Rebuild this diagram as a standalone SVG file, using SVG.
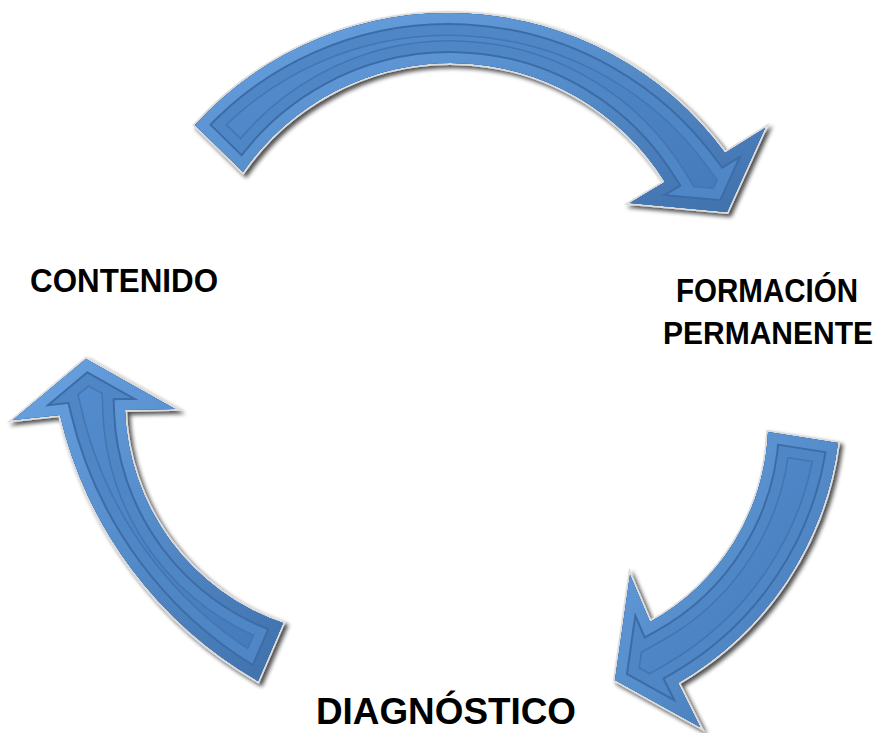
<svg xmlns="http://www.w3.org/2000/svg" width="890" height="733" viewBox="0 0 890 733">
<defs>
<style>
.lbl{font-family:"Liberation Sans",Arial,sans-serif;font-weight:bold;fill:#000;}
.rim{fill:#c4c4c4;stroke:#dcdcdc;stroke-width:4;stroke-linejoin:miter;}
.base{fill:url(#bg);}
.s46{fill:none;stroke:#4375b1;stroke-width:46;}
.s43{fill:none;stroke:#4f86c6;stroke-width:43;}
.s24{fill:none;stroke:#3c6ca6;stroke-width:24;}
.s20{fill:none;stroke:url(#band);stroke-width:20;}
</style>
<linearGradient id="bg" x1="0" y1="0" x2="1" y2="1">
<stop offset="0" stop-color="#5690d2"/>
<stop offset="1" stop-color="#4479b8"/>
</linearGradient>
<linearGradient id="band" x1="0" y1="0" x2="1" y2="1">
<stop offset="0" stop-color="#6aa3e3"/>
<stop offset="0.5" stop-color="#558cca"/>
<stop offset="1" stop-color="#3f70ab"/>
</linearGradient>
<filter id="sh" x="-15%" y="-15%" width="130%" height="130%">
<feGaussianBlur in="SourceAlpha" stdDeviation="2.2"/>
<feOffset dx="2.5" dy="3" result="o"/>
<feComponentTransfer><feFuncA type="linear" slope="0.7"/></feComponentTransfer>
<feMerge><feMergeNode/><feMergeNode in="SourceGraphic"/></feMerge>
</filter>
<path id="pT" d="M195,125 A343,343 0 0 1 725,153 L765,128 L727,212 L630,203 L665,182 A252.5,252.5 0 0 0 243,172 Z"/>
<path id="pL" d="M86,359 L175,409 L125,410 A233,233 0 0 0 283,623 L258,681 A416,416 0 0 1 60,415 L13,420 Z"/>
<path id="pR" d="M768,432 L838,443 A326,326 0 0 1 678,683 L700,727 L615,680 L630,575 L650,622 A228,228 0 0 0 768,432 Z"/>
<clipPath id="cT"><use href="#pT"/></clipPath>
<clipPath id="cL"><use href="#pL"/></clipPath>
<clipPath id="cR"><use href="#pR"/></clipPath>
</defs>
<rect width="890" height="733" fill="#ffffff"/>
<g id="connectors">
<g id="arrow-contenido-formacion">
<use href="#pT" class="rim" filter="url(#sh)"/>
<use href="#pT" class="base"/>
<g clip-path="url(#cT)">
<use href="#pT" class="s46"/><use href="#pT" class="s43"/><use href="#pT" class="s24"/><use href="#pT" class="s20"/>
</g>
</g>
<g id="arrow-formacion-diagnostico">
<use href="#pR" class="rim" filter="url(#sh)"/>
<use href="#pR" class="base"/>
<g clip-path="url(#cR)">
<use href="#pR" class="s46"/><use href="#pR" class="s43"/><use href="#pR" class="s24"/><use href="#pR" class="s20"/>
</g>
</g>
<g id="arrow-diagnostico-contenido">
<use href="#pL" class="rim" filter="url(#sh)"/>
<use href="#pL" class="base"/>
<g clip-path="url(#cL)">
<use href="#pL" class="s46"/><use href="#pL" class="s43"/><use href="#pL" class="s24"/><use href="#pL" class="s20"/>
</g>
</g>
</g>
<g id="node-contenido">
<text class="lbl" x="124" y="292" font-size="33" text-anchor="middle" textLength="188" lengthAdjust="spacingAndGlyphs">CONTENIDO</text>
</g>
<g id="node-formacion">
<text class="lbl" x="767" y="302" font-size="33" text-anchor="middle" textLength="182" lengthAdjust="spacingAndGlyphs">FORMACIÓN</text>
<text class="lbl" x="768" y="344" font-size="31" text-anchor="middle" textLength="210" lengthAdjust="spacingAndGlyphs">PERMANENTE</text>
</g>
<g id="node-diagnostico">
<text class="lbl" x="446" y="724" font-size="37" text-anchor="middle" textLength="260" lengthAdjust="spacingAndGlyphs">DIAGNÓSTICO</text>
</g>
</svg>
